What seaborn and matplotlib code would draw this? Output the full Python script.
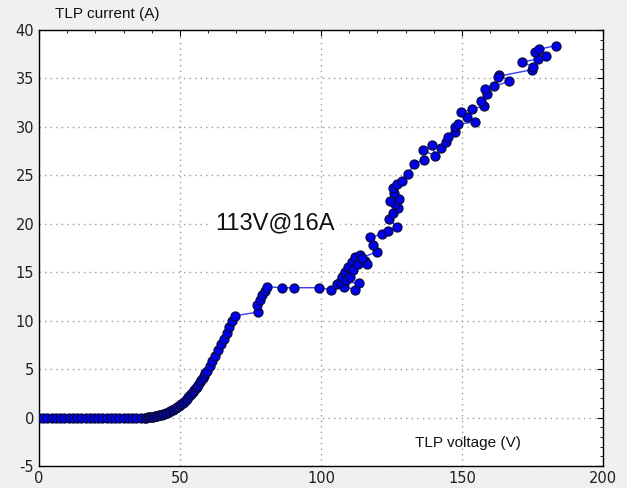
import matplotlib
matplotlib.use("Agg")
import matplotlib.pyplot as plt
from matplotlib.ticker import MultipleLocator
import seaborn as sns
import pandas as pd

# TLP sweep: leakage region (flat at 0 A)
v_off = [0, 1.5, 3, 4.5, 6, 7.5, 9, 10.5, 12, 13.5, 15, 16.5, 18, 19.5, 21, 22.5,
         24, 25.5, 27, 28.5, 30, 31.5, 33, 34.5, 36, 37.5]
i_off = [0] * len(v_off)

# turn-on knee
v_knee = [38.0, 38.5, 39.0, 39.5, 40.0, 40.5, 41.0, 41.5, 42.0, 42.5, 43.0, 43.5,
          44.0, 44.5, 45.0, 45.5, 46.0, 46.5, 47.0, 47.5, 48.0, 48.5, 49.0, 49.5,
          50.0, 50.5, 51.0, 51.5, 52.0, 52.5, 53.0, 53.5, 54.0, 54.5, 55.0, 55.5,
          56.0, 56.5, 57.0, 57.5, 58.0, 58.5, 59.0, 59.5, 60.5, 61.5, 62.5, 63.5,
          64.5, 65.5, 66.5, 67.5, 68.5, 69.5]
i_knee = [0.0, 0.01, 0.02, 0.04, 0.06, 0.08, 0.11, 0.14, 0.18, 0.22, 0.26, 0.3,
          0.35, 0.4, 0.46, 0.52, 0.59, 0.66, 0.74, 0.82, 0.91, 1.0, 1.09, 1.18,
          1.25, 1.35, 1.5, 1.65, 1.8, 1.95, 2.12, 2.3, 2.47, 2.65, 2.82, 3.0,
          3.2, 3.4, 3.62, 3.85, 4.07, 4.3, 4.55, 4.8, 5.3, 5.85, 6.4, 6.95,
          7.55, 8.15, 8.75, 9.35, 9.95, 10.5]

# snapback plateau and high-current region
v_high = [77.8, 77.2, 78.4, 79.0, 80.1, 80.7, 86.3, 90.4, 99.3, 103.4, 105.6, 108.0,
          112.2, 113.4, 106.8, 107.3, 108.5, 109.0, 110.3, 109.7, 110.9, 111.5, 112.0,
          113.2, 113.8, 115.6, 116.2, 114.5, 119.7, 118.5, 117.4, 121.5, 123.9, 126.8,
          124.2, 125.7, 127.2, 126.2, 124.5, 127.8, 125.9, 125.7, 126.8, 128.6, 130.9,
          133.0, 136.5, 136.3, 140.4, 139.5, 142.6, 144.2, 145.1, 147.5, 147.5, 148.5,
          154.6, 151.7, 149.6, 153.4, 157.9, 156.7, 158.7, 158.2, 161.3, 166.8, 163.1,
          162.6, 174.7, 175.2, 171.3, 177.0, 179.8, 175.9, 177.2, 183.3]
i_high = [10.9, 11.6, 12.1, 12.6, 13.1, 13.5, 13.4, 13.4, 13.4, 13.2, 13.8, 13.5,
          13.2, 13.9, 14.0, 14.5, 15.0, 14.2, 14.5, 15.5, 16.1, 15.2, 16.6,
          15.9, 16.8, 16.2, 15.9, 16.5, 17.1, 17.8, 18.6, 18.9, 19.3, 19.7,
          20.5, 21.1, 21.6, 22.0, 22.3, 22.6, 23.2, 23.7, 24.1, 24.4, 25.1,
          26.2, 26.6, 27.6, 27.0, 28.1, 27.8, 28.4, 29.0, 29.5, 30.0, 30.3,
          30.5, 31.0, 31.5, 31.8, 32.2, 32.7, 33.4, 33.9, 34.2, 34.7, 35.4,
          35.2, 35.9, 36.2, 36.7, 37.0, 37.3, 37.7, 38.0, 38.4]

df = pd.DataFrame({"voltage": v_off + v_knee + v_high,
                   "current": i_off + i_knee + i_high})

sns.set_style("white")
plt.rcParams["font.family"] = ["DejaVu Sans"]
plt.rcParams["axes.unicode_minus"] = False

fig = plt.figure(figsize=(6.27, 4.88), dpi=100, facecolor="#f0f0f0")
ax = fig.add_axes([0.0622, 0.0451, 0.8995, 0.8934])
ax.set_facecolor("white")

sns.lineplot(data=df, x="voltage", y="current", sort=False, estimator=None,
             color="#3a3aff", linewidth=1.0, marker="o", markersize=6.5,
             markerfacecolor="#0000f0", markeredgecolor="#0a0a40",
             markeredgewidth=0.9, ax=ax, zorder=3)

ax.set_xlim(0, 200)
ax.set_ylim(-5, 40)
ax.xaxis.set_major_locator(MultipleLocator(50))
ax.xaxis.set_minor_locator(MultipleLocator(10))
ax.yaxis.set_major_locator(MultipleLocator(5))
ax.yaxis.set_minor_locator(MultipleLocator(1))
ax.tick_params(which="both", direction="in", top=True, right=True,
               colors="black", labelcolor="#202020")
ax.tick_params(which="major", length=4, width=0.8, labelsize=10.5)
ax.tick_params(which="minor", length=2.5, width=0.6)
ax.grid(True, which="major", linestyle=(0, (1, 3)), color="#999999", linewidth=1.0)
ax.set_xlabel("")
ax.set_ylabel("")
for s in ax.spines.values():
    s.set_color("black")
    s.set_linewidth(1.0)

fig.text(55 / 627, 1 - 14 / 488, "TLP current (A)", family="Liberation Sans",
         fontsize=11, va="center", ha="left", color="#111111")
fig.text(415 / 627, 1 - 443 / 488, "TLP voltage (V)", family="Liberation Sans",
         fontsize=11, va="center", ha="left", color="#111111")
ax.text(62.4, 20.0, "113V@16A", family="Liberation Sans", fontsize=17,
        va="center", ha="left", color="#111111", zorder=4,
        bbox=dict(facecolor="white", edgecolor="none", pad=4))

fig.savefig("out.png", dpi=100, facecolor=fig.get_facecolor())
